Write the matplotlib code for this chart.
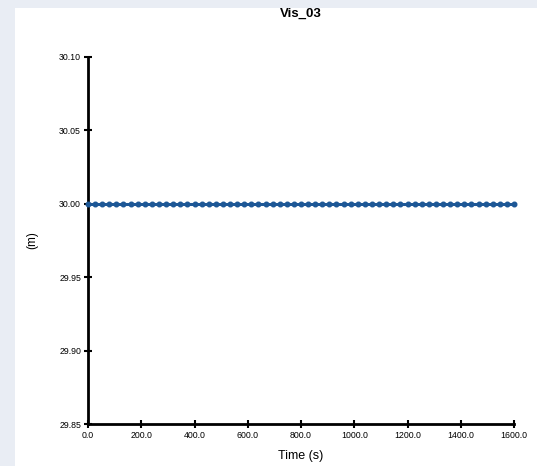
#!/usr/bin/env python3
# +
# import(s)
# -
import matplotlib
matplotlib.use('Agg')
import matplotlib.pyplot as plt
from matplotlib.patches import Rectangle
from matplotlib.ticker import FormatStrFormatter


# +
# data
# -
TIME_S = [0.0, 26.7, 53.3, 80.0, 106.7, 133.3, 160.0, 186.7, 213.3, 240.0,
          266.7, 293.3, 320.0, 346.7, 373.3, 400.0, 426.7, 453.3, 480.0, 506.7,
          533.3, 560.0, 586.7, 613.3, 640.0, 666.7, 693.3, 720.0, 746.7, 773.3,
          800.0, 826.7, 853.3, 880.0, 906.7, 933.3, 960.0, 986.7, 1013.3, 1040.0,
          1066.7, 1093.3, 1120.0, 1146.7, 1173.3, 1200.0, 1226.7, 1253.3, 1280.0, 1306.7,
          1333.3, 1360.0, 1386.7, 1413.3, 1440.0, 1466.7, 1493.3, 1520.0, 1546.7, 1573.3,
          1600.0]
LEVEL_M = [30.0] * len(TIME_S)
X_TICKS = [0, 200, 400, 600, 800, 1000, 1200, 1400, 1600]
Y_TICKS = [29.85, 29.90, 29.95, 30.00, 30.05, 30.10]
TITLE = 'Vis_03'


# +
# style
# -
plt.rcParams['font.family'] = ['Liberation Sans', 'DejaVu Sans']


# +
# plot
# -
_fig = plt.figure(figsize=(5.37, 4.66), dpi=100)
_fig.patch.set_facecolor('#e9edf4')
_fig.patches.append(Rectangle((15 / 537, 0), 1.0, 1 - 8 / 466, transform=_fig.transFigure,
                              facecolor='white', edgecolor='none', zorder=-5))

_ax = _fig.add_axes([88 / 537, 1 - 424 / 466, 426 / 537, 367 / 466])
_ax.set_facecolor('none')
_ax.plot(TIME_S, LEVEL_M, color='#1d5796', lw=2.2, marker='o', ms=3.3,
         mec='#1d5796', mfc='#1d5796', clip_on=False, zorder=3)

_ax.set_xlim(0, 1600)
_ax.set_ylim(29.85, 30.10)
_ax.set_xticks(X_TICKS)
_ax.set_yticks(Y_TICKS)
_ax.xaxis.set_major_formatter(FormatStrFormatter('%.1f'))
_ax.yaxis.set_major_formatter(FormatStrFormatter('%.2f'))

for _s in ['top', 'right']:
    _ax.spines[_s].set_visible(False)
for _s in ['left', 'bottom']:
    _ax.spines[_s].set_linewidth(2.0)
    _ax.spines[_s].set_color('black')

_ax.tick_params(axis='both', direction='inout', length=6, width=1.5, labelsize=6.3,
                colors='black', pad=2)

_ax.set_xlabel('Time (s)', fontsize=9, labelpad=7)
_ax.set_ylabel('(m)', fontsize=8.5, labelpad=15)
_ax.set_title(TITLE, fontsize=9.5, fontweight='bold', pad=29)

plt.savefig('out.png', dpi=100, facecolor=_fig.get_facecolor())
